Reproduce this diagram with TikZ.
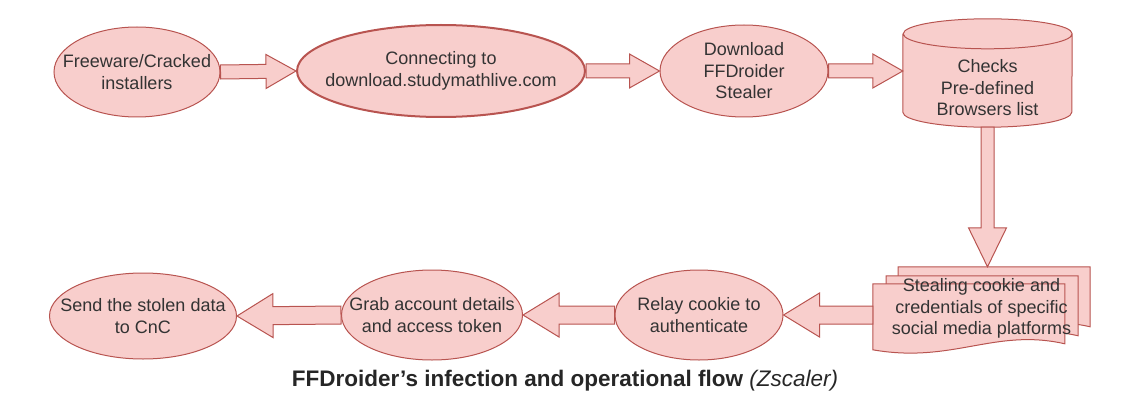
\documentclass[tikz,border=0pt]{standalone}
\usepackage{fontspec}
\setmainfont{Liberation Sans}
\usetikzlibrary{shapes.geometric,calc,backgrounds}
\definecolor{pinkfill}{HTML}{F8CECC}
\definecolor{pinkline}{HTML}{B85450}
\definecolor{flowtext}{HTML}{333333}
\tikzset{
  flowtxt/.style={text=flowtext,align=center,font=\fontsize{18}{21.5}\selectfont},
  flowell/.style={ellipse,draw=pinkline,fill=pinkfill,line width=1pt,inner xsep=-30pt,inner ysep=-5pt,flowtxt},
  flowpage/.style={draw=pinkline,fill=pinkfill,line width=1pt},
  blockarr/.style={draw=pinkline,fill=pinkfill,line width=1pt,line join=miter},
}
\newcommand{\blockarrow}[5]{%
  \path (#2) coordinate (tip) ($(#2)!#5pt!(#1)$) coordinate (neck);
  \draw[blockarr] ($(#1)!#3pt!90:(#2)$) -- ($(neck)!#3pt!90:(tip)$) -- ($(neck)!#4pt!90:(tip)$) -- (tip)
    -- ($(neck)!#4pt!-90:(tip)$) -- ($(neck)!#3pt!-90:(tip)$) -- ($(#1)!#3pt!-90:(#2)$) -- cycle;}
\newcommand{\doclayer}[1]{%
  \draw[flowpage] #1 -- ++(192,0) -- ++(0,60) .. controls +(-70,-16) and +(80,14) .. ++(-192,6) -- cycle;}
\begin{document}
\begin{tikzpicture}[x=1pt,y=-1pt]
\useasboundingbox (0,0) rectangle (1142,409);

\node[flowell,minimum width=166pt,minimum height=90pt] (e1) at (137,72) {Freeware/Cracked\\installers};
\node[flowell,line width=2pt,minimum width=288pt,minimum height=92pt] (e2) at (441,71) {Connecting to\\download.studymathlive.com};
\node[flowell,minimum width=168pt,minimum height=92pt] (e3) at (744,71) {Download\\FFDroider\\Stealer};
\node[minimum width=169pt,minimum height=108pt,inner sep=0pt,
  label={[flowtxt,yshift=-15pt]center:Checks\\Pre-defined\\Browsers list}] (cyl) at (987.5,73) {};
\node[flowtxt,minimum width=217pt,minimum height=83pt,inner sep=0pt] (docs) at (981.5,308.5)
  {Stealing cookie and\\credentials of specific\\social media platforms};
\node[flowell,minimum width=168pt,minimum height=90pt] (e4) at (699,315) {Relay cookie to\\authenticate};
\node[flowell,minimum width=181pt,minimum height=90pt] (e5) at (432,315) {Grab account details\\and access token};
\node[flowell,minimum width=187pt,minimum height=86pt] (e6) at (143,316) {Send the stolen data\\to CnC};

\begin{scope}[on background layer]
\draw[flowpage] ([yshift=-15pt]cyl.north west) -- ([yshift=15pt]cyl.south west)
  arc[start angle=180,end angle=360,x radius=84.5pt,y radius=15pt]
  -- ([yshift=-15pt]cyl.north east) arc[start angle=0,end angle=360,x radius=84.5pt,y radius=15pt];
\doclayer{($(docs.north east)+(-192,0)$)}
\doclayer{($(docs.north east)+(-204,9)$)}
\doclayer{($(docs.north west)+(0,17)$)}
\end{scope}

\blockarrow{e1.east}{e2.west}{7}{17}{30}
\blockarrow{e2.east}{e3.west}{7}{17}{30}
\blockarrow{e3.east}{e3.east -| cyl.west}{7}{17}{30}
\blockarrow{cyl.south}{cyl.south |- docs.north}{6.5}{19}{39}
\blockarrow{docs.west |- e4.east}{e4.east}{9}{22}{36}
\blockarrow{e4.west}{e5.east}{9}{22}{36}
\blockarrow{e5.west}{e6.east}{9}{22}{36}

\node[text=black!85,font=\fontsize{22.5}{26}\selectfont] (caption) at (565,381)
  {\textbf{FFDroider's infection and operational flow} \textit{(Zscaler)}};
\end{tikzpicture}
\end{document}
